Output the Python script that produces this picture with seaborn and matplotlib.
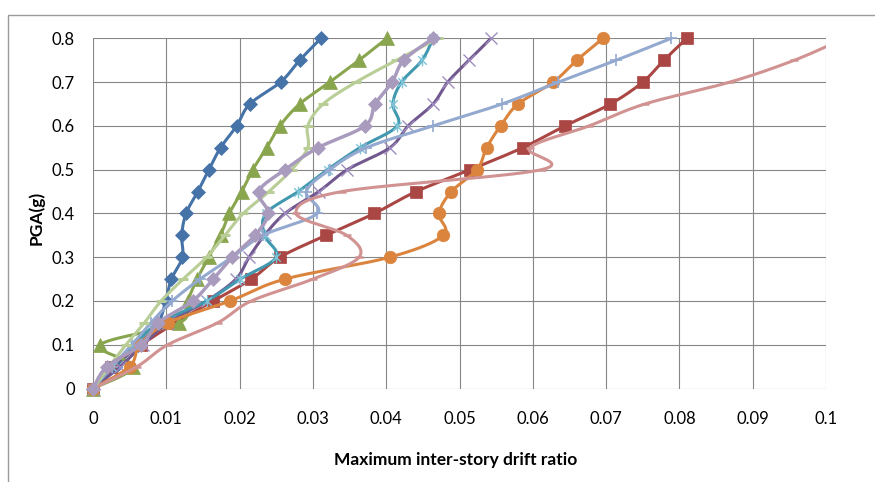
import numpy as np
import pandas as pd
import matplotlib
matplotlib.use("Agg")
import matplotlib.pyplot as plt
import seaborn as sns
from matplotlib.path import Path
from matplotlib.patches import Rectangle

# PGA levels (g) of the incremental dynamic analysis
pga = [0.00, 0.05, 0.10, 0.15, 0.20, 0.25, 0.30, 0.35, 0.40,
       0.45, 0.50, 0.55, 0.60, 0.65, 0.70, 0.75, 0.80]

# Maximum inter-story drift ratio for each ground motion record
drift_1 = [0, 0.0030, 0.0062, 0.0089, 0.0099, 0.0107, 0.0122, 0.0121, 0.0127,
           0.0143, 0.0158, 0.0174, 0.0196, 0.0214, 0.0256, 0.0282, 0.0311]
drift_2 = [0, 0.0025, 0.0066, 0.0112, 0.0164, 0.0216, 0.0255, 0.0318, 0.0384,
           0.0441, 0.0515, 0.0586, 0.0644, 0.0706, 0.0750, 0.0779, 0.0810]
drift_3 = [0, 0.0055, 0.0010, 0.0118, 0.0129, 0.0142, 0.0158, 0.0174, 0.0186,
           0.0203, 0.0218, 0.0237, 0.0255, 0.0282, 0.0323, 0.0363, 0.0401]
drift_4 = [0, 0.0037, 0.0068, 0.0102, 0.0155, 0.0195, 0.0213, 0.0234, 0.0262,
           0.0308, 0.0347, 0.0405, 0.0430, 0.0464, 0.0484, 0.0513, 0.0543]
drift_5 = [0, 0.0026, 0.0056, 0.0090, 0.0155, 0.0201, 0.0250, 0.0234, 0.0236,
           0.0280, 0.0320, 0.0364, 0.0415, 0.0409, 0.0421, 0.0449, 0.0464]
drift_6 = [0, 0.0050, 0.0064, 0.0102, 0.0187, 0.0262, 0.0405, 0.0478, 0.0472,
           0.0489, 0.0524, 0.0537, 0.0556, 0.0580, 0.0628, 0.0660, 0.0696]
drift_7 = [0, 0.0026, 0.0053, 0.0079, 0.0108, 0.0146, 0.0190, 0.0232, 0.0306,
           0.0291, 0.0323, 0.0373, 0.0464, 0.0558, 0.0635, 0.0714, 0.0789]
drift_8 = [0, 0.0060, 0.0102, 0.0170, 0.0216, 0.0300, 0.0363, 0.0346, 0.0277,
           0.0340, 0.0612, 0.0596, 0.0677, 0.0753, 0.0869, 0.0957, 0.1025]
drift_9 = [0, 0.0022, 0.0045, 0.0070, 0.0093, 0.0123, 0.0155, 0.0180, 0.0205,
           0.0240, 0.0271, 0.0293, 0.0293, 0.0314, 0.0359, 0.0414, 0.0471]
drift_10 = [0, 0.0019, 0.0066, 0.0089, 0.0136, 0.0164, 0.0190, 0.0221, 0.0239,
            0.0226, 0.0262, 0.0307, 0.0371, 0.0385, 0.0408, 0.0424, 0.0464]

x_ticks = [0, 0.01, 0.02, 0.03, 0.04, 0.05, 0.06, 0.07, 0.08, 0.09, 0.1]
x_tick_labels = ["0", "0.01", "0.02", "0.03", "0.04", "0.05",
                 "0.06", "0.07", "0.08", "0.09", "0.1"]
y_ticks = [0, 0.1, 0.2, 0.3, 0.4, 0.5, 0.6, 0.7, 0.8]
y_tick_labels = ["0", "0.1", "0.2", "0.3", "0.4", "0.5", "0.6", "0.7", "0.8"]

x_title = "Maximum inter-story drift ratio"
y_title = "PGA(g)"

# asterisk marker: an x with a vertical bar
star_path = Path([(0, -1), (0, 1), (-0.72, -0.72), (0.72, 0.72),
                  (-0.72, 0.72), (0.72, -0.72)],
                 [Path.MOVETO, Path.LINETO] * 3)

# (values, line colour, marker, marker size, edge colour, face colour, edge width, line width)
styles = [
    (drift_1, "#4572A7", "D", 7.2, "#4572A7", "#4572A7", 0.5, 2.2),
    (drift_2, "#AA4643", "s", 8.8, "#AA4643", "#AA4643", 0.5, 2.2),
    (drift_3, "#89A54E", "^", 9.5, "#89A54E", "#89A54E", 0.5, 2.2),
    (drift_4, "#71588F", "x", 8.5, "#A08DC0", "none", 1.0, 2.2),
    (drift_5, "#4198AF", star_path, 8.5, "#7CC3D8", "none", 1.0, 2.2),
    (drift_6, "#DB843D", "o", 9.0, "#DB843D", "#DB843D", 0.5, 2.2),
    (drift_7, "#93A9CF", "+", 8.5, "#93A9CF", "none", 1.2, 2.2),
    (drift_8, "#D19392", "_", 5.5, "#D19392", "none", 1.8, 2.2),
    (drift_9, "#B9CD96", "_", 7.5, "#B9CD96", "none", 2.2, 2.2),
    (drift_10, "#A99BBD", "D", 7.2, "#A99BBD", "#A99BBD", 0.5, 2.5),
]


def smooth_curve(xs, ys, n=30):
    """Cubic Bezier smoothing through every point (Catmull-Rom style)."""
    p = np.column_stack([xs, ys]).astype(float)
    p = np.vstack([p[0], p, p[-1]])
    t = np.linspace(0, 1, n, endpoint=False)[:, None]
    parts = []
    for i in range(1, len(p) - 2):
        p0, p1, p2, p3 = p[i - 1], p[i], p[i + 1], p[i + 2]
        c1 = p1 + (p2 - p0) / 6.0
        c2 = p2 - (p3 - p1) / 6.0
        parts.append((1 - t) ** 3 * p1 + 3 * (1 - t) ** 2 * t * c1
                     + 3 * (1 - t) * t ** 2 * c2 + t ** 3 * p2)
    parts.append(p[-2][None, :])
    return np.vstack(parts)


sns.set_theme(style="white")
plt.rcParams["font.family"] = ["Lato", "DejaVu Sans"]

fig = plt.figure(figsize=(8.75, 4.82), dpi=100)
W, H = 875, 482
ax = fig.add_axes([93 / W, 1 - 388.5 / H, (826 - 93) / W, (388.5 - 38.3) / H])

grid_c = "#868686"

for k, (vals, lc, mk, ms, ec, fc, mew, lw) in enumerate(styles):
    curve = smooth_curve(vals, pga)
    cdf = pd.DataFrame({"drift": curve[:, 0], "pga": curve[:, 1]})
    sns.lineplot(data=cdf, x="drift", y="pga", sort=False, estimator=None,
                 errorbar=None, color=lc, linewidth=lw, ax=ax,
                 zorder=3 + 2 * k, solid_capstyle="round", solid_joinstyle="round")
    pdf = pd.DataFrame({"drift": vals, "pga": pga})
    pdf = pdf[pdf["drift"] <= 0.1]
    sns.lineplot(data=pdf, x="drift", y="pga", sort=False, estimator=None,
                 errorbar=None, color=lc, linestyle="", marker=mk,
                 markersize=ms, markeredgecolor=ec, markerfacecolor=fc,
                 markeredgewidth=mew, ax=ax, zorder=4 + 2 * k, clip_on=False)

ax.set_xlim(0, 0.1)
ax.set_ylim(0, 0.8)
ax.set_xticks(x_ticks)
ax.set_xticklabels(x_tick_labels)
ax.set_yticks(y_ticks)
ax.set_yticklabels(y_tick_labels)
ax.grid(True, color=grid_c, linewidth=0.8)
ax.set_axisbelow(True)
for s in ax.spines.values():
    s.set_visible(False)
ax.tick_params(axis="both", direction="out", length=5, width=0.8,
               color=grid_c, labelsize=12, labelcolor="#000000")
ax.tick_params(axis="x", pad=11)
ax.tick_params(axis="y", pad=8)
ax.set_xlabel("")
ax.set_ylabel("")

fig.text(456 / W, 1 - 460 / H, x_title, ha="center", va="center",
         fontsize=12.5, fontweight="bold", color="#000000")
fig.text(36 / W, 1 - 218 / H, y_title, ha="center", va="center",
         rotation=90, fontsize=12.5, fontweight="bold", color="#000000")

# chart area border
fig.patches.append(Rectangle((8 / W, -0.1), 1.2, 1 - 15 / H + 0.1,
                             transform=fig.transFigure, fill=False,
                             edgecolor="#9A9A9A", linewidth=1.0))

fig.savefig("out.png", dpi=100)
